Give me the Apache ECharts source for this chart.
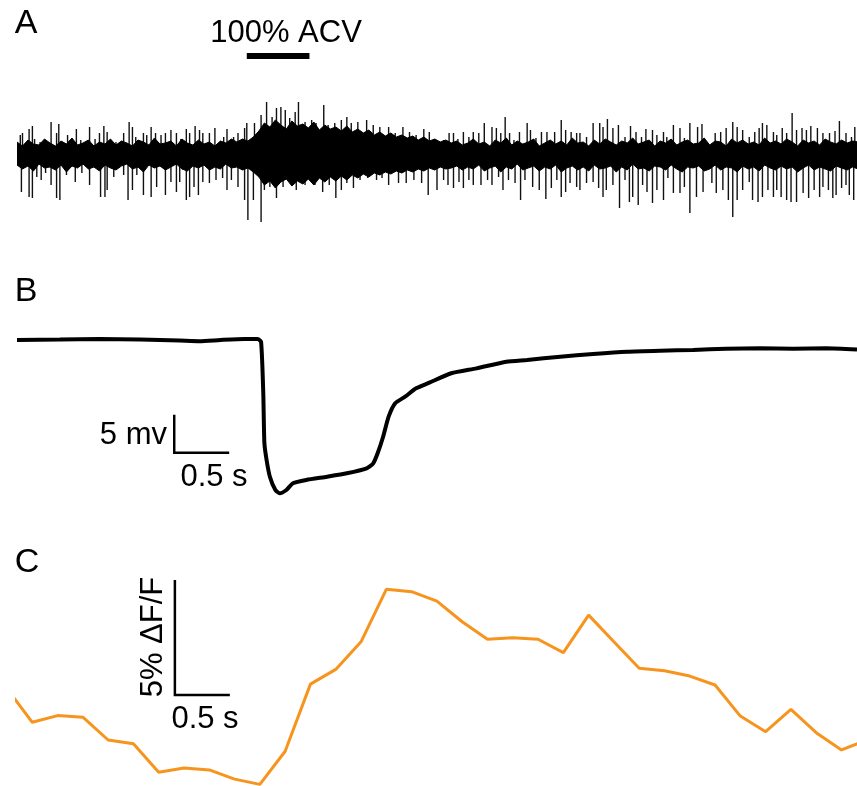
<!DOCTYPE html>
<html>
<head>
<meta charset="utf-8">
<script src="https://cdn.jsdelivr.net/npm/echarts@6/dist/echarts.min.js"></script>
<style>
  html, body { margin: 0; padding: 0; background: #fff; }
  #chart { width: 857px; height: 786px; }
</style>
</head>
<body>
<div id="chart"></div>
<script>
// time axis shared by the three panels, seconds
const tMax = 7.64

// ---- A: extracellular recording (a.u.) ----
// dense noise envelope, one sample every coreStep seconds
const coreStep = 0.05
const coreTop = [13, 9, 15, 11, 10, 16, 12, 9, 14, 11, 17, 10, 12, 15, 9, 13, 11, 16, 10, 14,
  12, 9, 15, 13, 10, 17, 11, 12, 14, 9, 16, 12, 10, 15, 11, 13, 9, 14, 12, 16,
  13, 16, 14, 18, 24, 32, 28, 35, 30, 26, 34, 29, 31, 27, 33, 25, 30, 26, 28, 24,
  29, 23, 26, 22, 25, 20, 23, 19, 22, 18, 20, 17, 19, 15, 18, 14, 16, 13, 15, 12,
  14, 10, 12, 16, 11, 13, 9, 15, 12, 17, 10, 14, 11, 13, 16, 9, 12, 15, 11, 14,
  10, 17, 12, 13, 9, 15, 11, 16, 13, 10, 14, 12, 17, 11, 13, 15, 9, 14, 12, 16,
  10, 13, 15, 11, 12, 17, 10, 14, 13, 9, 16, 12, 15, 11, 13, 10, 17, 12, 14, 11,
  16, 13, 9, 15, 12, 14, 10, 16, 13, 11, 15, 12, 14, 13]
const coreBottom = [-10, -14, -11, -16, -9, -13, -12, -15, -10, -17, -11, -13, -9, -14, -12, -16, -10, -13, -15, -11,
  -9, -14, -12, -17, -10, -13, -11, -15, -12, -9, -14, -16, -11, -13, -10, -15, -12, -14, -9, -13,
  -12, -15, -13, -17, -22, -30, -26, -33, -27, -24, -31, -26, -29, -24, -30, -23, -27, -22, -26, -21,
  -25, -20, -23, -19, -22, -18, -20, -17, -19, -16, -18, -15, -17, -14, -16, -13, -15, -12, -14, -13,
  -11, -15, -12, -14, -10, -16, -13, -11, -17, -12, -14, -9, -15, -13, -11, -16, -12, -14, -10, -17,
  -13, -11, -15, -12, -16, -10, -14, -13, -11, -17, -12, -15, -9, -14, -13, -16, -11, -12, -15, -10,
  -14, -17, -12, -13, -11, -16, -14, -10, -15, -12, -13, -17, -11, -14, -12, -16, -10, -13, -15, -11,
  -14, -12, -17, -13, -10, -15, -12, -14, -16, -11, -13, -15, -12, -14]

// upward spikes
const upTimes = [0.03, 0.05, 0.11, 0.14, 0.16, 0.21, 0.25, 0.31, 0.36, 0.38, 0.42, 0.46, 0.54, 0.58, 0.66, 0.71, 0.75, 0.79, 0.82, 0.90,
  0.97, 1.02, 1.05, 1.08, 1.15, 1.18, 1.22, 1.26, 1.31, 1.35, 1.40, 1.45, 1.49, 1.54, 1.57, 1.62, 1.66, 1.69, 1.75, 1.80,
  1.88, 1.91, 1.97, 2.01, 2.07, 2.09, 2.16, 2.22, 2.27, 2.32, 2.36, 2.40, 2.44, 2.48, 2.53, 2.56, 2.62, 2.68, 2.72, 2.79,
  2.83, 2.89, 2.95, 3.00, 3.04, 3.10, 3.18, 3.24, 3.30, 3.38, 3.44, 3.51, 3.57, 3.63, 3.70, 3.75, 3.82, 3.88, 3.93, 3.97,
  4.01, 4.06, 4.11, 4.15, 4.20, 4.25, 4.32, 4.36, 4.40, 4.44, 4.48, 4.52, 4.57, 4.64, 4.67, 4.72, 4.77, 4.82, 4.89, 4.95,
  4.99, 5.04, 5.09, 5.12, 5.18, 5.24, 5.30, 5.33, 5.37, 5.42, 5.47, 5.53, 5.58, 5.63, 5.68, 5.72, 5.78, 5.82, 5.88, 5.91,
  5.97, 6.03, 6.07, 6.12, 6.19, 6.23, 6.28, 6.35, 6.40, 6.45, 6.51, 6.55, 6.60, 6.66, 6.71, 6.75, 6.78, 6.82, 6.88, 6.91,
  6.96, 7.00, 7.05, 7.09, 7.14, 7.18, 7.22, 7.28, 7.33, 7.39, 7.44, 7.48, 7.54, 7.59, 7.62]
const upAmps = [20, 22, 26, 29, 16, 13, 15, 33, 22, 31, 13, 20, 26, 15, 28, 16, 22, 29, 23, 13,
  22, 33, 28, 18, 22, 20, 28, 22, 20, 22, 25, 22, 16, 26, 22, 29, 25, 22, 22, 27,
  18, 26, 18, 22, 27, 32, 32, 40, 53, 38, 47, 48, 45, 37, 43, 53, 33, 35, 32, 50,
  30, 32, 35, 38, 32, 33, 35, 30, 28, 28, 22, 28, 23, 20, 26, 23, 15, 15, 22, 22,
  16, 23, 18, 23, 22, 32, 28, 27, 22, 38, 22, 15, 23, 32, 25, 17, 23, 23, 23, 35,
  25, 23, 22, 22, 18, 32, 32, 28, 36, 27, 30, 18, 29, 23, 18, 26, 25, 20, 23, 18,
  30, 27, 17, 32, 28, 31, 12, 22, 23, 27, 33, 28, 25, 18, 23, 27, 32, 30, 23, 20,
  27, 22, 42, 25, 27, 25, 29, 27, 22, 22, 24, 34, 22, 18, 28]

// downward spikes
const downTimes = [0.04, 0.11, 0.14, 0.18, 0.22, 0.26, 0.31, 0.36, 0.39, 0.45, 0.53, 0.59, 0.66, 0.76, 0.80, 0.82, 0.88, 0.97, 1.01, 1.05,
  1.09, 1.15, 1.22, 1.27, 1.35, 1.40, 1.45, 1.48, 1.54, 1.57, 1.61, 1.65, 1.69, 1.75, 1.81, 1.87, 1.91, 1.95, 2.01, 2.07,
  2.10, 2.15, 2.22, 2.25, 2.30, 2.36, 2.42, 2.50, 2.54, 2.62, 2.71, 2.78, 2.84, 2.90, 2.95, 3.00, 3.06, 3.12, 3.19, 3.27,
  3.32, 3.38, 3.47, 3.54, 3.61, 3.68, 3.74, 3.82, 3.88, 3.92, 3.97, 4.02, 4.06, 4.11, 4.15, 4.22, 4.28, 4.32, 4.38, 4.42,
  4.47, 4.53, 4.58, 4.62, 4.69, 4.75, 4.81, 4.86, 4.91, 4.95, 4.99, 5.03, 5.09, 5.12, 5.18, 5.24, 5.29, 5.33, 5.36, 5.42,
  5.48, 5.53, 5.57, 5.60, 5.65, 5.69, 5.73, 5.78, 5.82, 5.88, 5.92, 5.97, 6.03, 6.07, 6.12, 6.18, 6.24, 6.32, 6.36, 6.42,
  6.47, 6.51, 6.55, 6.60, 6.66, 6.69, 6.74, 6.78, 6.83, 6.88, 6.91, 6.95, 7.00, 7.04, 7.09, 7.15, 7.20, 7.25, 7.30, 7.33,
  7.38, 7.42, 7.45, 7.50, 7.54, 7.57, 7.61]
const downAmps = [-37, -42, -43, -22, -25, -18, -30, -43, -45, -20, -27, -18, -30, -42, -42, -35, -22, -20, -45, -35,
  -20, -40, -42, -32, -40, -27, -37, -27, -45, -42, -32, -40, -27, -28, -25, -23, -35, -25, -32, -45,
  -65, -45, -67, -35, -32, -43, -32, -30, -35, -30, -30, -37, -30, -43, -35, -28, -33, -25, -23, -25,
  -23, -30, -28, -28, -25, -28, -40, -35, -25, -30, -33, -27, -33, -25, -30, -30, -25, -30, -22, -35,
  -25, -28, -45, -25, -32, -35, -44, -33, -25, -42, -37, -28, -32, -35, -28, -27, -33, -42, -35, -30,
  -53, -25, -47, -42, -50, -30, -37, -48, -35, -45, -23, -38, -38, -32, -58, -42, -37, -28, -38, -35,
  -45, -62, -45, -35, -27, -45, -47, -42, -35, -42, -35, -42, -45, -47, -47, -38, -43, -35, -42, -32,
  -35, -43, -40, -33, -30, -40, -45]

// ACV application bar
const acvStart = 2.09
const acvEnd = 2.66
const acvLevel = 99

// ---- B: membrane potential (mV, relative) ----
const bTimes = [0, 0.39, 0.75, 1.12, 1.48, 1.66, 1.85, 2.07, 2.19, 2.22, 2.24, 2.25, 2.27, 2.30, 2.35, 2.39, 2.45, 2.51, 2.63, 2.82,
  3.00, 3.18, 3.24, 3.28, 3.33, 3.38, 3.44, 3.53, 3.63, 3.75, 3.95, 4.18, 4.45, 4.64, 4.94, 5.24, 5.55, 5.85, 6.15, 6.45,
  6.76, 7.06, 7.36, 7.64]
const bValues = [-2.63, -2.57, -2.50, -2.57, -2.70, -2.78, -2.63, -2.50, -2.50, -2.89, -9.64, -16.18, -18.42, -20.62, -22.37, -22.80, -22.37, -21.49, -21.05, -20.62,
  -20.17, -19.51, -18.86, -17.54, -15.36, -12.72, -10.96, -10.09, -8.99, -8.25, -7.01, -6.36, -5.49, -5.26, -4.83, -4.47, -4.17, -4.04, -3.95, -3.78,
  -3.72, -3.78, -3.72, -3.88]
const bBarCorner = [1.43, -17.46] // scale bar: 5 mV, 0.5 s

// ---- C: calcium signal (% dF/F) ----
const cFirstFrame = -0.091
const cFramePeriod = 0.23
const cValues = [4.23, 2.77, 3.06, 2.99, 2.00, 1.84, 0.60, 0.78, 0.70, 0.30, 0.07, 1.51, 4.43, 5.07, 6.27, 8.55, 8.45, 8.04, 7.14, 6.38,
  6.45, 6.38, 5.80, 7.43, 6.27, 5.12, 5.01, 4.78, 4.39, 3.04, 2.36, 3.33, 2.32, 1.57, 2.00]
const cBarCorner = [1.436, 3.96] // scale bar: 5 %, 0.5 s

const barMv = 5
const barPct = 5
const barSec = 0.5

const font = '"Liberation Sans", Arial, Helvetica, sans-serif'
const orange = '#f7941d'

const chart = echarts.init(document.getElementById('chart'), null, { renderer: 'canvas' })

const zip = (xs, ys) => xs.map((x, i) => [x, ys[i]])
const stepped = (ys, step, t0) => ys.map((y, i) => [t0 + i * step, y])
const hiddenX = gi => ({ type: 'value', gridIndex: gi, min: 0, max: tMax, show: false })
const label = (text, x, y, size, align, rot) => ({
  type: 'text', x: x, y: y, rotation: rot || 0,
  style: { text: text, font: size + 'px ' + font, fill: '#000', align: align || 'center', verticalAlign: 'middle' }
})

const option = {
  animation: false,
  backgroundColor: '#fff',
  grid: [
    { left: 17, right: 0, top: 40, height: 190 },
    { left: 17, right: 0, top: 320, height: 190 },
    { left: 17, right: 0, top: 556, height: 230 }
  ],
  xAxis: [hiddenX(0), hiddenX(1), hiddenX(2)],
  yAxis: [
    { type: 'value', gridIndex: 0, min: -75, max: 115, show: false },
    { type: 'value', gridIndex: 1, min: -25, max: 0, show: false },
    { type: 'value', gridIndex: 2, min: 0, max: 10, show: false }
  ],
  series: [
    // A - noise band
    {
      type: 'line', xAxisIndex: 0, yAxisIndex: 0,
      data: stepped(coreTop, coreStep, 0), symbol: 'none',
      lineStyle: { width: 1, color: '#000' }, areaStyle: { color: '#000', opacity: 1, origin: 0 }
    },
    {
      type: 'line', xAxisIndex: 0, yAxisIndex: 0,
      data: stepped(coreBottom, coreStep, 0), symbol: 'none',
      lineStyle: { width: 1, color: '#000' }, areaStyle: { color: '#000', opacity: 1, origin: 0 }
    },
    // A - spikes
    {
      type: 'bar', xAxisIndex: 0, yAxisIndex: 0,
      barWidth: 1.4,
      itemStyle: { color: '#111' },
      data: zip(upTimes, upAmps).concat(zip(downTimes, downAmps))
    },
    // A - ACV bar
    {
      type: 'line', xAxisIndex: 0, yAxisIndex: 0, symbol: 'none',
      data: [[acvStart, acvLevel], [acvEnd, acvLevel]],
      lineStyle: { color: '#000', width: 6, cap: 'butt' }
    },
    // B - trace
    {
      type: 'line', xAxisIndex: 1, yAxisIndex: 1, symbol: 'none', smooth: 0.2,
      data: zip(bTimes, bValues),
      lineStyle: { color: '#000', width: 4 }
    },
    // B - scale bar
    {
      type: 'line', xAxisIndex: 1, yAxisIndex: 1, symbol: 'none',
      data: [
        [bBarCorner[0], bBarCorner[1] + barMv],
        bBarCorner,
        [bBarCorner[0] + barSec, bBarCorner[1]]
      ],
      lineStyle: { color: '#000', width: 2.5, join: 'miter', cap: 'butt' }
    },
    // C - trace
    {
      type: 'line', xAxisIndex: 2, yAxisIndex: 2, symbol: 'none',
      data: stepped(cValues, cFramePeriod, cFirstFrame),
      lineStyle: { color: orange, width: 3 }
    },
    // C - scale bar
    {
      type: 'line', xAxisIndex: 2, yAxisIndex: 2, symbol: 'none',
      data: [
        [cBarCorner[0], cBarCorner[1] + barPct],
        cBarCorner,
        [cBarCorner[0] + barSec, cBarCorner[1]]
      ],
      lineStyle: { color: '#000', width: 2.5, join: 'miter', cap: 'butt' }
    }
  ],
  graphic: [
    label('A', 26, 24, 34),
    label('B', 26, 292, 34),
    label('C', 27, 563, 34),
    label('100% ACV', 286, 33, 31),
    label('5 mv', 167, 435, 31, 'right'),
    label('0.5 s', 214, 477, 31),
    label('0.5 s', 205, 719, 31),
    label('5% ΔF/F', 153, 637, 31, 'center', Math.PI / 2)
  ]
}

chart.setOption(option)
</script>
</body>
</html>
